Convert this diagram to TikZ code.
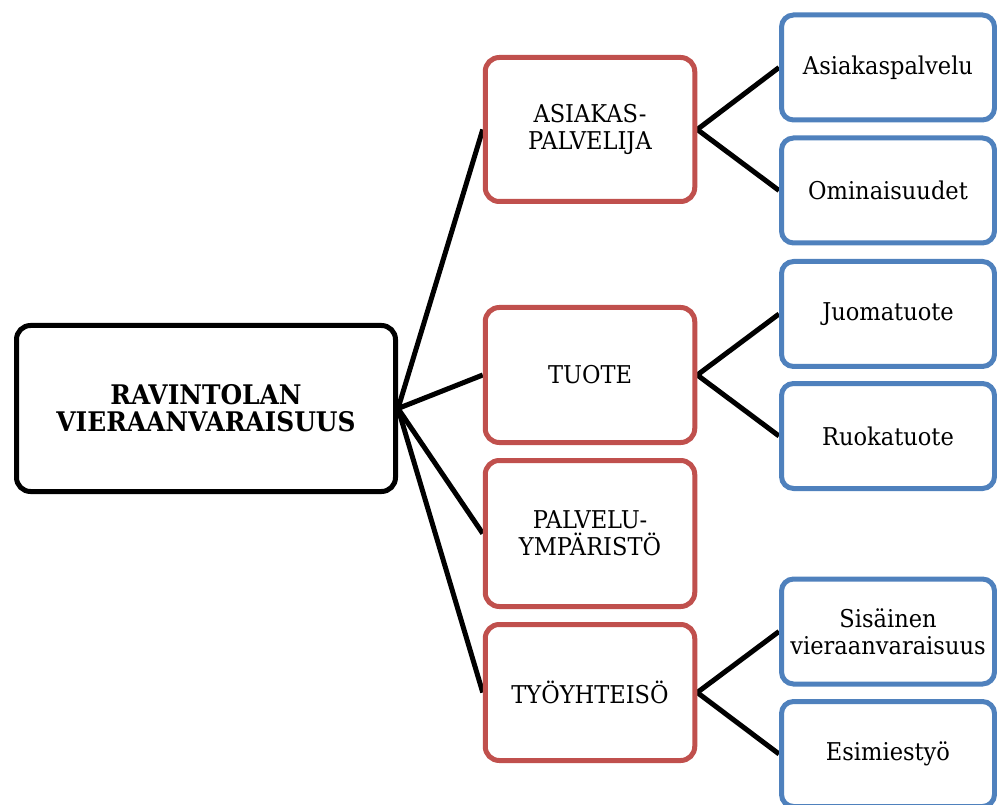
\documentclass[tikz,border=0pt]{standalone}
\usepackage{fontspec}
\setmainfont{DejaVu Serif}[FakeStretch=0.92]
\usetikzlibrary{backgrounds}
\definecolor{boxred}{HTML}{C0504D}
\definecolor{boxblue}{HTML}{4F81BD}
\begin{document}
\begin{tikzpicture}[x=1pt,y=-1pt,
  box/.style={draw, rounded corners=14pt, line width=5pt, fill=white,
    align=center, inner sep=0pt, font=\fontsize{24.5}{27}\selectfont},
  rootbox/.style={box, draw=black, minimum width=379pt, minimum height=166pt,
    font=\fontsize{27}{27}\selectfont\bfseries},
  topicbox/.style={box, draw=boxred, minimum width=209.5pt},
  leafbox/.style={box, draw=boxblue, minimum width=213pt, minimum height=105pt,
    rounded corners=12pt},
  link/.style={line width=5pt, black}]
\useasboundingbox (0,0) rectangle (997,805);

% root
\node[rootbox] (root) at (206,408.5) {RAVINTOLAN\\VIERAANVARAISUUS};

% main topics
\node[topicbox, minimum height=144pt] (asp) at (590,129.5) {ASIAKAS-\\PALVELIJA};
\node[topicbox, minimum height=135pt] (tuo) at (590,375)   {TUOTE};
\node[topicbox, minimum height=146pt] (pal) at (590,533.5) {PALVELU-\\YMPÄRISTÖ};
\node[topicbox, minimum height=136pt] (tyo) at (590,692.5) {TYÖYHTEISÖ};

% sub topics
\node[leafbox] (l1) at (888,67.5)  {Asiakaspalvelu};
\node[leafbox] (l2) at (888,190.5) {Ominaisuudet};
\node[leafbox] (l3) at (888,314)   {Juomatuote};
\node[leafbox] (l4) at (888,436)   {Ruokatuote};
\node[leafbox] (l5) at (888,631.5) {Sisäinen\\vieraanvaraisuus};
\node[leafbox] (l6) at (888,754)   {Esimiestyö};

% connectors
\begin{scope}[on background layer]
  \foreach \t in {asp,tuo,pal,tyo}
    \draw[link] (root.east) -- (\t.west);
  \draw[link] (asp.east) -- (l1.west);
  \draw[link] (asp.east) -- (l2.west);
  \draw[link] (tuo.east) -- (l3.west);
  \draw[link] (tuo.east) -- (l4.west);
  \draw[link] (tyo.east) -- (l5.west);
  \draw[link] (tyo.east) -- (l6.west);
\end{scope}
\end{tikzpicture}
\end{document}
